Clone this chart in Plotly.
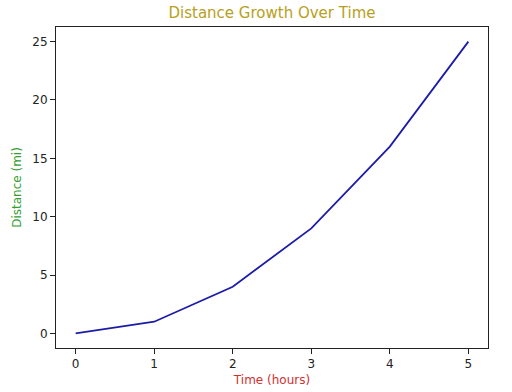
import plotly.graph_objects as go

time_hours = [0, 1, 2, 3, 4, 5]
distance_mi = [0, 1, 4, 9, 16, 25]
x_ticks = [0, 1, 2, 3, 4, 5]
y_ticks = [0, 5, 10, 15, 20, 25]

fig = go.Figure()
fig.add_trace(go.Scatter(x=time_hours, y=distance_mi, mode="lines",
                         line=dict(color="#1c1ca8", width=1.8)))

font = dict(family="DejaVu Sans", size=12, color="#222222")
axis_common = dict(showgrid=False, zeroline=False, showline=True, linecolor="#222222",
                   linewidth=1, mirror=True, ticks="outside", ticklen=5, tickwidth=1,
                   automargin=False,
                   tickcolor="#222222", tickfont=dict(family="DejaVu Sans", size=12, color="#222222"))

fig.update_layout(
    width=512, height=392,
    margin=dict(l=56, r=24, t=27, b=44),
    paper_bgcolor="white", plot_bgcolor="white",
    showlegend=False,
    font=font,
    title=dict(text="Distance Growth Over Time", x=0.5, xanchor="center", xref="paper",
               y=1 - 13/392, yanchor="middle",
               font=dict(family="DejaVu Sans", size=15, color="#b8a020")),
    xaxis=dict(range=[-0.25, 5.25], tickvals=x_ticks,
               title=dict(text="Time (hours)", standoff=5,
                          font=dict(family="DejaVu Sans", size=12, color="#d03030")),
               **axis_common),
    yaxis=dict(range=[-1.25, 26.25], tickvals=y_ticks,
               title=dict(text="Distance (mi)", standoff=8,
                          font=dict(family="DejaVu Sans", size=12, color="#30a030")),
               **axis_common),
)

fig.write_html("out.html", config={"displayModeBar": False},
               post_script="document.body.style.margin='0px';")
